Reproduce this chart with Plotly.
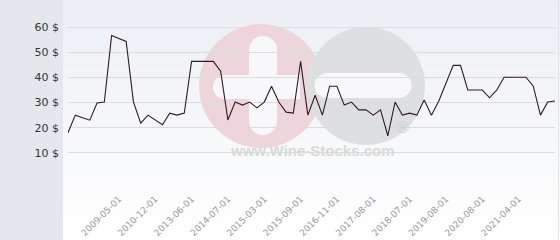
import plotly.graph_objects as go

# ---------------- data ----------------
prices = [18, 25, 24, 23, 29.8, 30.2, 56.7, 55.5, 54.3, 30.3,
          21.8, 25, 23.1, 21.2, 25.8, 25, 25.8, 46.4, 46.4, 46.4,
          46.4, 42.5, 23.1, 30.2, 29, 30.2, 27.9, 30.2, 36.5, 30.2,
          26.2, 25.8, 46.4, 25, 32.9, 25, 36.5, 36.5, 29, 30.2,
          27.1, 27.1, 25, 27.1, 16.8, 30.2, 25, 25.8, 25, 31,
          25, 30.5, 37.7, 44.8, 44.8, 35, 35, 35, 31.9, 35,
          40.1, 40.1, 40.1, 40.1, 36.6, 25, 30.2, 30.6]
point_index = list(range(len(prices)))
tick_positions = [7, 12, 17, 22, 27, 32, 37, 42, 47, 52, 57, 62]
tick_labels = ["2009-05-01", "2010-12-01", "2013-06-01", "2014-07-01",
               "2015-03-01", "2015-09-01", "2016-11-01", "2017-08-01",
               "2018-07-01", "2019-08-01", "2020-08-01", "2021-04-01"]
y_tick_values = [0, 10, 20, 30, 40, 50, 60]
y_tick_labels = ["", "10 $", "20 $", "30 $", "40 $", "50 $", "60 $"]

# ---------------- geometry helpers ----------------
W, H = 560, 240
L, R, T, B = 68, 5, 2, 62
PW, PH = W - L - R, H - T - B


def px(x):
    return (x - L) / PW


def py(y):
    return (H - B - y) / PH


shapes = []
# left grey band
shapes.append(dict(type="rect", xref="paper", yref="paper", x0=px(0), x1=px(63),
                   y0=py(H), y1=py(0), fillcolor="#e4e8ec", line_width=0, layer="below"))
# gradient background strips
N = 48
top = (236, 239, 244)
bot = (255, 255, 255)
for k in range(N):
    t = k / (N - 1)
    c = tuple(round(top[i] + (bot[i] - top[i]) * t) for i in range(3))
    y0 = k * H / N
    y1 = (k + 1) * H / N + 0.6
    shapes.append(dict(type="rect", xref="paper", yref="paper", x0=px(63), x1=px(W),
                       y0=py(y1), y1=py(y0), fillcolor="rgb(%d,%d,%d)" % c,
                       line_width=0, layer="below"))
# right edge line
shapes.append(dict(type="line", xref="paper", yref="paper", x0=px(558.5), x1=px(558.5),
                   y0=py(H), y1=py(0), line=dict(color="#dfe2e6", width=1), layer="below"))


def circle(cx, cy, r, color):
    return dict(type="circle", xref="paper", yref="paper", x0=px(cx - r), x1=px(cx + r),
                y0=py(cy + r), y1=py(cy - r), fillcolor=color, line_width=0, layer="below")


def rect(x0, y0, x1, y1, color):
    return dict(type="rect", xref="paper", yref="paper", x0=px(x0), x1=px(x1),
                y0=py(y1), y1=py(y0), fillcolor=color, line_width=0, layer="below")


pink = "#eed5dc"
grey = "#dedfe1"
white = "#f8f8fa"
# watermark circles
shapes.append(circle(261, 86, 62, pink))
shapes.append(circle(366, 86, 59, grey))
# plus
shapes.append(rect(249, 50, 277, 121, white))
shapes.append(circle(263, 50, 14, white))
shapes.append(circle(263, 121, 14, white))
shapes.append(rect(225, 75, 300, 99, white))
shapes.append(circle(225, 87, 12, white))
# minus
shapes.append(rect(327, 73, 399, 98, white))
shapes.append(circle(327, 85.5, 12.5, white))
shapes.append(circle(399, 85.5, 12.5, white))

annotations = [
    dict(text="<b>www.Wine-Stocks.com</b>", xref="paper", yref="paper", x=px(312), y=py(161),
         showarrow=False, font=dict(family="Liberation Sans", size=15, color="#d9d9d9")),
    dict(text="®", xref="paper", yref="paper", x=px(413), y=py(139),
         showarrow=False, font=dict(family="DejaVu Sans", size=16, color="#cfcfcf")),
]

fig = go.Figure()
fig.add_trace(go.Scatter(x=point_index, y=prices, mode="lines",
                         line=dict(color="#2e1b28", width=1.1), hoverinfo="skip"))

fig.update_layout(
    width=W, height=H,
    margin=dict(l=L, r=R, t=T, b=B, pad=0),
    paper_bgcolor="#ffffff",
    plot_bgcolor="rgba(0,0,0,0)",
    showlegend=False,
    shapes=shapes,
    annotations=annotations,
    font=dict(family="DejaVu Sans"),
    xaxis=dict(range=[0, len(prices) - 1], tickmode="array", tickvals=tick_positions,
               ticktext=tick_labels, tickangle=-45, showgrid=False, zeroline=False,
               showline=False, ticks="", tickfont=dict(size=9, color="#999999"),
               ticklabelstandoff=13),
    yaxis=dict(range=[0, 70], tickmode="array", tickvals=y_tick_values,
               ticktext=y_tick_labels, showgrid=True, gridcolor="#dcdcdc", gridwidth=1,
               zeroline=False, showline=False, ticks="",
               tickfont=dict(size=11, color="#333333"), ticklabelstandoff=8),
)

fig.write_html("out.html")
